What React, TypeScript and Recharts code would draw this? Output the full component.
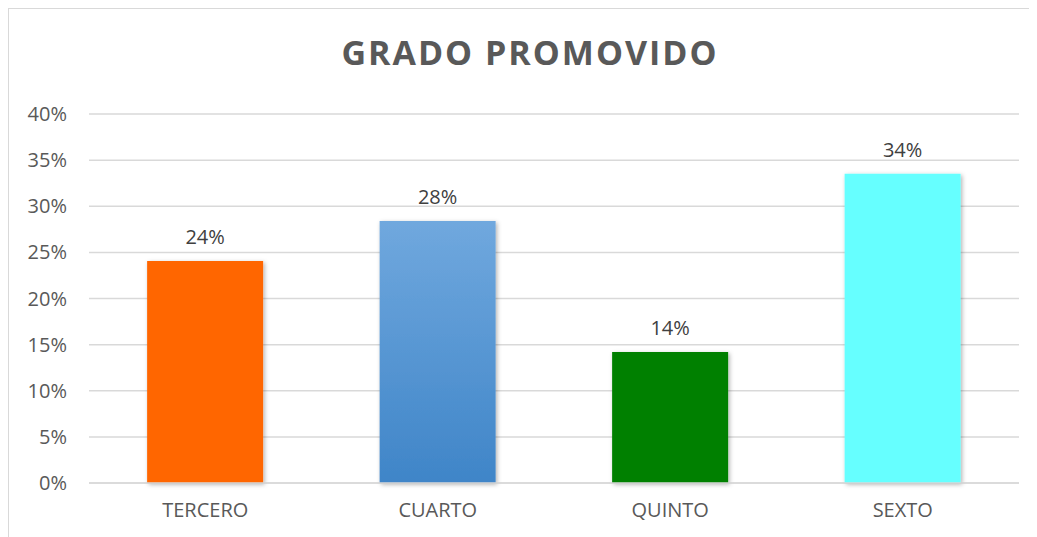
import { BarChart, Bar, XAxis, YAxis, CartesianGrid, Cell, LabelList } from 'recharts';

const grados = ['TERCERO', 'CUARTO', 'QUINTO', 'SEXTO'];
const promovidos = [0.2407, 0.284, 0.142, 0.3352];
const barFills = ['#FF6600', 'url(#cuartoGrad)', '#008000', '#66FFFF'];
const yTicks = [0, 0.05, 0.1, 0.15, 0.2, 0.25, 0.3, 0.35, 0.4];

const FONT = '"Open Sans", "Noto Sans", sans-serif';

const chartData = grados.map((g, i) => ({ grado: g, valor: promovidos[i] }));

const pct = (v: number) => `${Math.round(v * 100)}%`;

export default function App() {
    return (
        <div
            style={{
                position: 'relative',
                width: 1100,
                height: 560,
                border: '1px solid #d9d9d9',
                background: '#fff',
                fontFamily: FONT,
            }}
        >
            <div
                style={{
                    position: 'absolute',
                    left: 1,
                    top: 26,
                    width: 1040,
                    textAlign: 'center',
                    fontSize: 34,
                    lineHeight: '34px',
                    letterSpacing: 2,
                    fontWeight: 700,
                    color: '#595959',
                }}
            >
                GRADO PROMOVIDO
            </div>
            <BarChart
                width={1029}
                height={528}
                data={chartData}
                margin={{ top: 105, right: 19, left: 20, bottom: 14 }}
                barCategoryGap="25%"
            >
                <defs>
                    <linearGradient id="cuartoGrad" x1="0" y1="0" x2="0" y2="1">
                        <stop offset="0%" stopColor="#70A8DE" />
                        <stop offset="100%" stopColor="#3F85C8" />
                    </linearGradient>
                    <filter id="barShadow" x="-10%" y="-10%" width="125%" height="125%">
                        <feDropShadow dx="1.5" dy="1.5" stdDeviation="2" floodColor="#000" floodOpacity="0.3" />
                    </filter>
                </defs>
                <CartesianGrid vertical={false} stroke="#d9d9d9" strokeWidth={1.5} />
                <XAxis
                    dataKey="grado"
                    height={40}
                    axisLine={{ stroke: '#d9d9d9', strokeWidth: 1.5 }}
                    tickLine={false}
                    tickSize={0}
                    tickMargin={20}
                    tick={{ fill: '#595959', fontSize: 20, fontFamily: FONT }}
                />
                <YAxis
                    width={60}
                    domain={[0, 0.4]}
                    ticks={yTicks}
                    axisLine={false}
                    tickLine={false}
                    tickSize={0}
                    tickMargin={22}
                    tickFormatter={pct}
                    tick={{ fill: '#595959', fontSize: 20, fontFamily: FONT }}
                />
                <Bar dataKey="valor" isAnimationActive={false} filter="url(#barShadow)">
                    {chartData.map((d, i) => (
                        <Cell key={d.grado} fill={barFills[i]} />
                    ))}
                    <LabelList
                        dataKey="valor"
                        position="top"
                        offset={17}
                        formatter={(v: number) => pct(v)}
                        style={{ fill: '#404040', fontSize: 20, fontFamily: FONT }}
                    />
                </Bar>
            </BarChart>
        </div>
    );
}
